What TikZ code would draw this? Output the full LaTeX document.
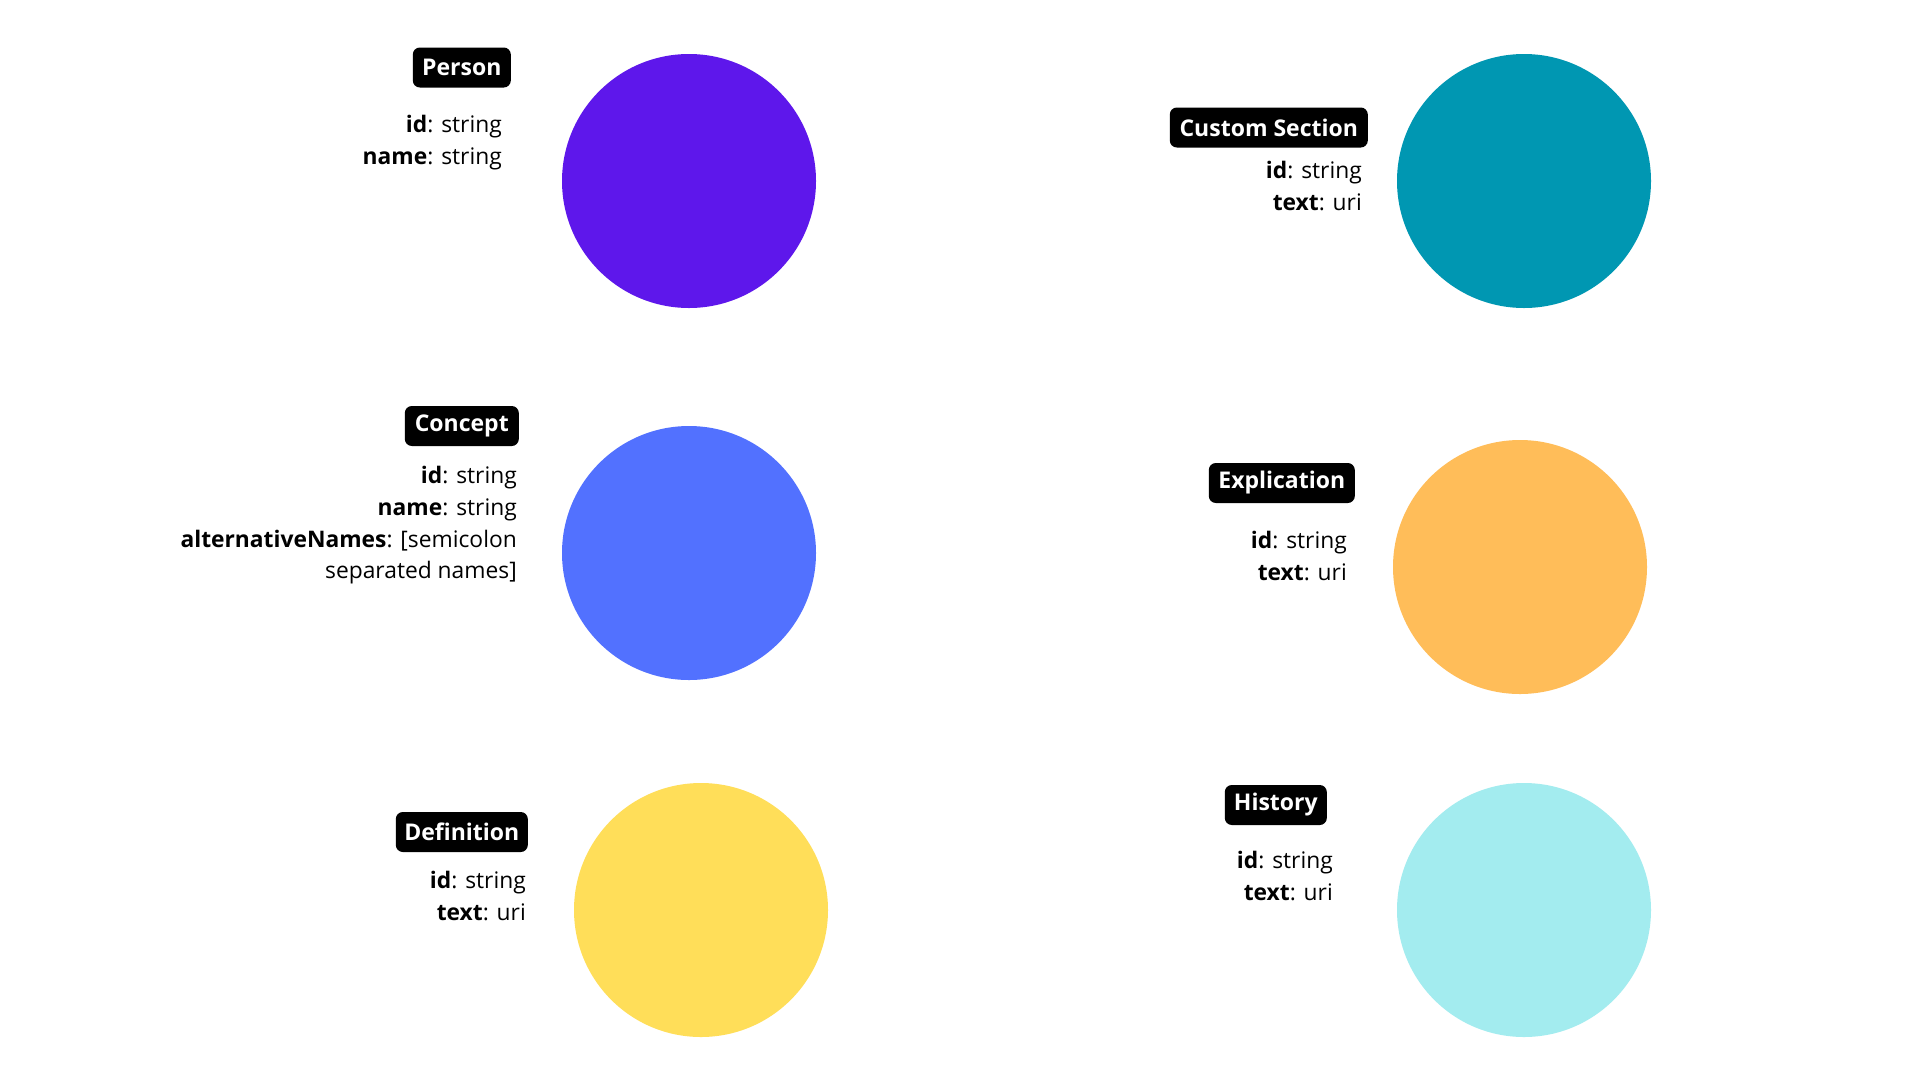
\documentclass[tikz,border=0pt]{standalone}
\usepackage{fontspec}
\setmainfont{Open Sans}
\definecolor{cperson}{HTML}{5E17EB}
\definecolor{cconcept}{HTML}{5271FF}
\definecolor{cdef}{HTML}{FFDE59}
\definecolor{ccustom}{HTML}{0097B2}
\definecolor{cexpl}{HTML}{FFBD59}
\definecolor{chist}{HTML}{A3ECEF}
\begin{document}
\begin{tikzpicture}[x=1pt,y=-1pt,
  blob/.style={circle,inner sep=0pt,minimum size=254pt,draw=none},
  tag/.style={fill=black,text=white,rounded corners=7pt,inner sep=0pt,minimum height=40pt,anchor=east,font=\fontsize{23}{26}\selectfont\bfseries},
  attr/.style={inner sep=0pt,anchor=base east,font=\fontsize{22.8}{26}\selectfont}]
\useasboundingbox (0,0) rectangle (1920,1080);
\fill[white] (0,0) rectangle (1920,1080);
% left column
\node[blob,fill=cperson] (person) at (689,181) {};
\node[tag,minimum width=98pt] (personT) at (511,67.5) {Person};
\node[attr] (personA) at (502,132) {\textbf{id}: string};
\node[attr] (personB) at (502,164) {\textbf{name}: string};

\node[blob,fill=cconcept] (concept) at (689,553) {};
\node[tag,minimum width=114pt] (conceptT) at (519,426) {Concept};
\node[attr] (conceptA) at (517,483) {\textbf{id}: string};
\node[attr] (conceptB) at (517,515) {\textbf{name}: string};
\node[attr] (conceptC) at (517,547) {\textbf{alternativeNames}: [semicolon};
\node[attr] (conceptD) at (517,578) {separated names]};

\node[blob,fill=cdef] (definition) at (701,910) {};
\node[tag,minimum width=132pt] (definitionT) at (528,832) {Definition};
\node[attr] (definitionA) at (526,888) {\textbf{id}: string};
\node[attr] (definitionB) at (526,920) {\textbf{text}: uri};
% right column
\node[blob,fill=ccustom] (custom) at (1524,181) {};
\node[tag,minimum width=198pt] (customT) at (1368,127.5) {Custom Section};
\node[attr] (customA) at (1362,178) {\textbf{id}: string};
\node[attr] (customB) at (1362,210) {\textbf{text}: uri};

\node[blob,fill=cexpl] (explication) at (1520,567) {};
\node[tag,minimum width=146pt] (explicationT) at (1355,483) {Explication};
\node[attr] (explicationA) at (1347,548) {\textbf{id}: string};
\node[attr] (explicationB) at (1347,580) {\textbf{text}: uri};

\node[blob,fill=chist] (history) at (1524,910) {};
\node[tag,minimum width=102pt] (historyT) at (1327,805) {History};
\node[attr] (historyA) at (1333,868) {\textbf{id}: string};
\node[attr] (historyB) at (1333,900) {\textbf{text}: uri};
\end{tikzpicture}
\end{document}
